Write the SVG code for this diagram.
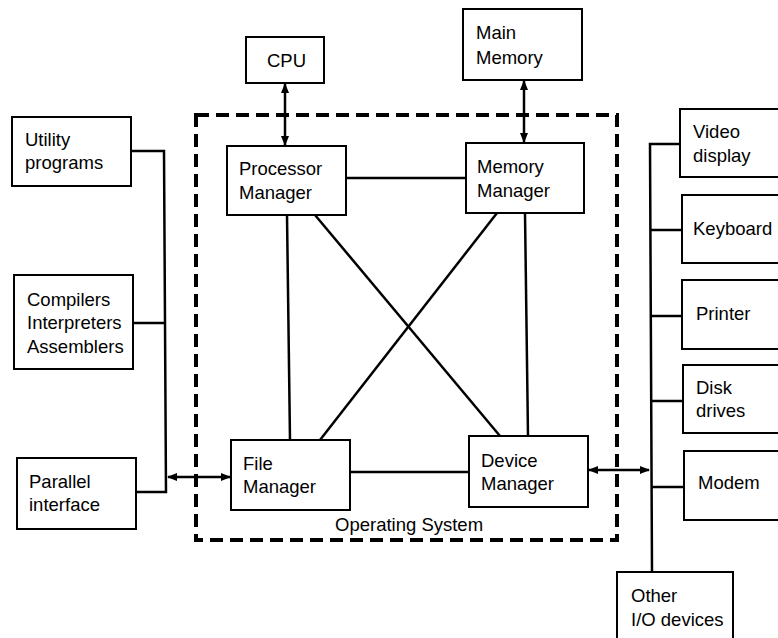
<svg xmlns="http://www.w3.org/2000/svg" width="778" height="638" viewBox="0 0 778 638">
<style>
.box{fill:#fff;stroke:#000;stroke-width:2}
.t{font-family:"Liberation Sans",Arial,sans-serif;font-size:18.5px;fill:#000}
.c{fill:none;stroke:#000;stroke-width:2.5}
.a{fill:none;stroke:#000;stroke-width:2.5;marker-start:url(#ah);marker-end:url(#ah)}
.os{fill:none;stroke:#000;stroke-width:4;stroke-dasharray:13 7}
</style>
<defs>
<marker id="ah" viewBox="0 0 10 10" refX="9" refY="5" markerWidth="4" markerHeight="4" orient="auto-start-reverse" markerUnits="strokeWidth">
<path d="M0,1 L10,5 L0,9 z" fill="#000"/>
</marker>
</defs>
<rect width="778" height="638" fill="#fff"/>
<g id="os-boundary">
<rect class="os" x="196" y="115" width="421" height="425"/>
<text class="t" x="335" y="531">Operating System</text>
</g>
<g id="connectors">
<line class="a" x1="285" y1="84" x2="285" y2="145"/>
<line class="a" x1="524" y1="81" x2="524" y2="142"/>
<line class="c" x1="346" y1="178" x2="466" y2="178"/>
<line class="c" x1="350" y1="472" x2="469" y2="472"/>
<line class="c" x1="287" y1="215" x2="290" y2="440"/>
<line class="c" x1="525" y1="213" x2="528" y2="436"/>
<line class="c" x1="315" y1="215" x2="500" y2="436"/>
<line class="c" x1="497" y1="213" x2="320" y2="440"/>
<polyline class="c" points="131,151 164,151 166,492 136,492"/>
<line class="c" x1="133" y1="323" x2="165" y2="323"/>
<line class="a" x1="168" y1="477" x2="230" y2="477"/>
<line class="a" x1="589" y1="470" x2="649" y2="470"/>
<polyline class="c" points="680,144 650,144 652,572"/>
<line class="c" x1="650" y1="230" x2="682" y2="230"/>
<line class="c" x1="651" y1="316" x2="682" y2="316"/>
<line class="c" x1="651" y1="401" x2="682" y2="401"/>
<line class="c" x1="651" y1="487" x2="684" y2="487"/>
</g>
<g id="cpu"><rect class="box" x="246" y="37" width="78" height="46"/><text class="t" x="267" y="67">CPU</text></g>
<g id="main-memory"><rect class="box" x="463" y="9" width="119" height="71"/><text class="t" x="476" y="39">Main</text><text class="t" x="476" y="64">Memory</text></g>
<g id="processor-manager"><rect class="box" x="227" y="146" width="119" height="69"/><text class="t" x="239" y="175">Processor</text><text class="t" x="239" y="199">Manager</text></g>
<g id="memory-manager"><rect class="box" x="466" y="143" width="118" height="70"/><text class="t" x="477" y="173">Memory</text><text class="t" x="477" y="197">Manager</text></g>
<g id="file-manager"><rect class="box" x="231" y="440" width="119" height="70"/><text class="t" x="243" y="470">File</text><text class="t" x="243" y="493">Manager</text></g>
<g id="device-manager"><rect class="box" x="469" y="436" width="119" height="71"/><text class="t" x="481" y="467">Device</text><text class="t" x="481" y="490">Manager</text></g>
<g id="utility-programs"><rect class="box" x="12" y="117" width="119" height="69"/><text class="t" x="25" y="146">Utility</text><text class="t" x="25" y="169">programs</text></g>
<g id="compilers"><rect class="box" x="14" y="275" width="119" height="94"/><text class="t" x="27" y="306">Compilers</text><text class="t" x="27" y="329">Interpreters</text><text class="t" x="27" y="353">Assemblers</text></g>
<g id="parallel-interface"><rect class="box" x="17" y="458" width="119" height="71"/><text class="t" x="29" y="488">Parallel</text><text class="t" x="29" y="511">interface</text></g>
<g id="video-display"><rect class="box" x="680" y="109" width="110" height="68"/><text class="t" x="693" y="138">Video</text><text class="t" x="693" y="162">display</text></g>
<g id="keyboard"><rect class="box" x="682" y="195" width="108" height="68"/><text class="t" x="693" y="235">Keyboard</text></g>
<g id="printer"><rect class="box" x="682" y="280" width="108" height="69"/><text class="t" x="696" y="320">Printer</text></g>
<g id="disk-drives"><rect class="box" x="683" y="365" width="107" height="68"/><text class="t" x="696" y="394">Disk</text><text class="t" x="696" y="417">drives</text></g>
<g id="modem"><rect class="box" x="684" y="451" width="106" height="69"/><text class="t" x="698" y="489">Modem</text></g>
<g id="other-io"><rect class="box" x="617" y="572" width="116" height="80"/><text class="t" x="631" y="602">Other</text><text class="t" x="631" y="626">I/O devices</text></g>
</svg>
